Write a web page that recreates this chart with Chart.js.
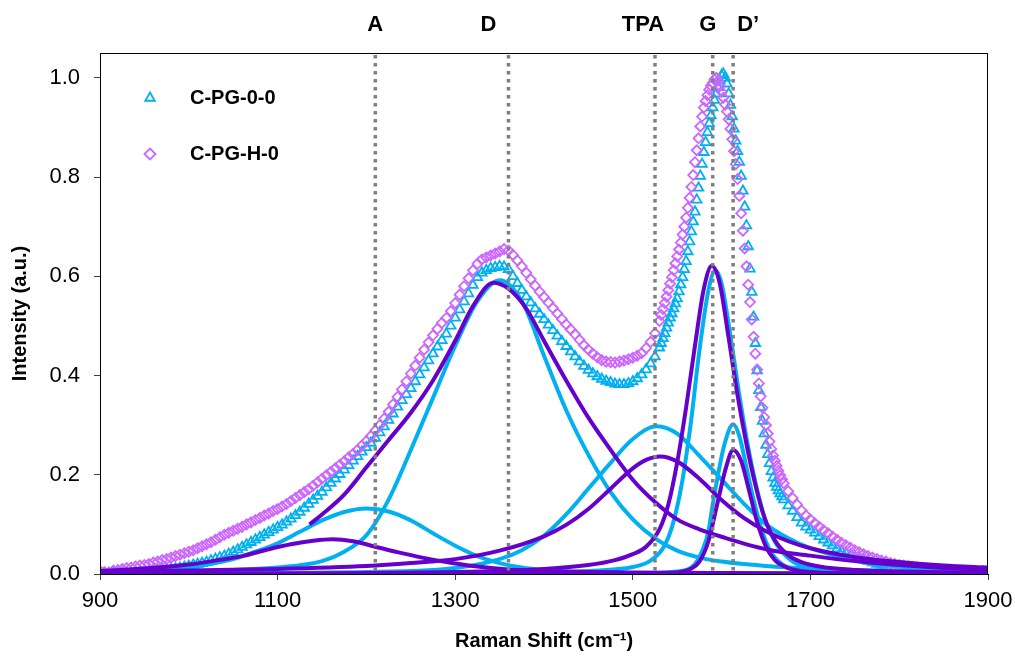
<!DOCTYPE html>
<html>
<head>
<meta charset="utf-8">
<script src="https://cdn.jsdelivr.net/npm/chart.js@4.4.1/dist/chart.umd.min.js"></script>
<style>
  html, body { margin: 0; padding: 0; background: #fff; }
  #wrap { width: 1015px; height: 656px; }
</style>
</head>
<body>
<div id="wrap"><canvas id="ramanChart" width="1015" height="656"></canvas></div>
<script>
// measured spectra: every 5 cm-1, every 2 cm-1 across the G band
const shift = [];
for (let x = 900; x <= 1530; x += 5) shift.push(x);
for (let x = 1532; x <= 1668; x += 2) shift.push(x);
for (let x = 1670; x <= 1895; x += 5) shift.push(x);

// C-PG-0-0
const pg00Low = [
  0.002,0.000,0.001,0.002,0.001,0.003,0.002,0.003,0.004,0.004,
  0.005,0.006,0.006,0.007,0.008,0.009,0.010,0.011,0.012,0.014,
  0.016,0.018,0.020,0.022,0.024,0.027,0.030,0.033,0.036,0.040,
  0.044,0.049,0.054,0.059,0.064,0.069,0.074,0.079,0.084,0.089,
  0.094,0.099,0.105,0.111,0.118,0.125,0.133,0.141,0.149,0.157,
  0.165,0.174,0.183,0.192,0.201,0.210,0.219,0.228,0.237,0.246,
  0.255,0.264,0.274,0.285,0.297,0.310,0.323,0.337,0.350,0.362,
  0.374,0.388,0.402,0.416,0.430,0.444,0.458,0.471,0.484,0.500,
  0.516,0.533,0.549,0.565,0.582,0.598,0.607,0.612,0.616,0.618,
  0.620,0.619,0.614,0.600,0.586,0.572,0.559,0.547,0.535,0.524,
  0.513,0.502,0.491,0.480,0.469,0.459,0.448,0.438,0.428,0.419,
  0.411,0.404,0.398,0.393,0.389,0.386,0.383,0.382,0.382,0.384,
  0.388,0.394,0.402,0.412,0.424,0.438,0.456
];
const pg00Peak = [
  0.465,0.475,0.485,0.496,0.506,0.516,0.525,0.535,0.545,0.555,
  0.569,0.583,0.598,0.614,0.630,0.650,0.670,0.690,0.710,0.730,
  0.754,0.778,0.802,0.826,0.850,0.870,0.890,0.908,0.924,0.940,
  0.955,0.968,0.981,0.994,1.005,1.008,1.000,0.988,0.968,0.945,
  0.922,0.897,0.873,0.852,0.830,0.802,0.772,0.740,0.702,0.660,
  0.615,0.568,0.518,0.465,0.410,0.370,0.336,0.308,0.283,0.260,
  0.241,0.223,0.207,0.194,0.183,0.175,0.168,0.162,0.156
];
const pg00High = [
  0.150,0.138,0.127,0.114,0.103,0.095,
  0.089,0.083,0.076,0.069,0.063,0.057,0.051,0.046,0.042,0.038,
  0.035,0.032,0.029,0.026,0.023,0.020,0.018,0.015,0.013,0.011,
  0.010,0.009,0.008,0.007,0.006,0.006,0.005,0.005,0.004,0.004,
  0.003,0.003,0.003,0.002,0.002,0.002,0.001,0.001,0.001,0.002
];

// C-PG-H-0
const pgH0Low = [
  0.006,0.004,0.003,0.007,0.008,0.010,0.012,0.013,0.015,0.017,
  0.018,0.020,0.023,0.025,0.028,0.030,0.033,0.036,0.039,0.042,
  0.045,0.048,0.052,0.056,0.060,0.064,0.069,0.074,0.079,0.083,
  0.087,0.091,0.095,0.100,0.104,0.109,0.113,0.118,0.122,0.127,
  0.131,0.136,0.141,0.147,0.153,0.159,0.165,0.171,0.178,0.185,
  0.192,0.199,0.206,0.213,0.220,0.227,0.235,0.242,0.250,0.259,
  0.268,0.278,0.289,0.300,0.313,0.327,0.342,0.357,0.372,0.388,
  0.404,0.420,0.436,0.452,0.467,0.481,0.494,0.506,0.516,0.530,
  0.546,0.563,0.580,0.596,0.612,0.625,0.634,0.638,0.642,0.646,
  0.650,0.655,0.652,0.643,0.632,0.620,0.607,0.594,0.581,0.569,
  0.558,0.547,0.536,0.525,0.514,0.503,0.493,0.483,0.472,0.461,
  0.452,0.444,0.437,0.431,0.428,0.427,0.426,0.428,0.430,0.433,
  0.436,0.440,0.445,0.455,0.468,0.485,0.510
];
const pgH0Peak = [
  0.522,0.534,0.546,0.559,0.572,0.585,0.598,0.612,0.626,0.640,
  0.654,0.668,0.684,0.700,0.718,0.738,0.758,0.780,0.804,0.830,
  0.854,0.878,0.902,0.922,0.940,0.953,0.965,0.976,0.984,0.990,
  0.997,1.000,0.994,0.983,0.972,0.960,0.946,0.932,0.916,0.897,
  0.876,0.852,0.826,0.796,0.762,0.727,0.692,0.656,0.620,0.583,
  0.548,0.513,0.478,0.444,0.412,0.384,0.358,0.335,0.316,0.300,
  0.283,0.267,0.252,0.239,0.228,0.218,0.208,0.199,0.191
];
const pgH0High = [
  0.183,0.167,0.153,0.140,0.128,0.118,
  0.110,0.102,0.095,0.088,0.082,0.075,0.069,0.063,0.058,0.053,
  0.048,0.044,0.040,0.036,0.033,0.030,0.027,0.025,0.022,0.020,
  0.018,0.017,0.015,0.014,0.013,0.012,0.011,0.010,0.010,0.009,
  0.008,0.008,0.007,0.007,0.006,0.006,0.005,0.005,0.004,0.006
];

const pg00 = pg00Low.concat(pg00Peak, pg00High);
const pgH0 = pgH0Low.concat(pgH0Peak, pgH0High);

// fitted peak components, [shift, intensity]
const fitA_00 = [[900,0.002],[950,0.005],[1000,0.013],[1050,0.03],[1075,0.045],[1100,0.062],[1125,0.085],[1150,0.108],[1175,0.125],[1200,0.132],[1225,0.126],[1250,0.108],[1275,0.082],[1300,0.057],[1325,0.036],[1350,0.022],[1375,0.013],[1400,0.008],[1450,0.003],[1500,0.001],[1600,0],[1900,0]];
const fitD_00 = [[900,0.002],[1000,0.005],[1050,0.008],[1100,0.013],[1150,0.026],[1175,0.045],[1200,0.078],[1225,0.15],[1250,0.25],[1275,0.355],[1300,0.46],[1325,0.55],[1350,0.592],[1375,0.55],[1400,0.44],[1425,0.33],[1450,0.24],[1475,0.165],[1500,0.11],[1525,0.072],[1550,0.047],[1575,0.033],[1600,0.025],[1650,0.016],[1700,0.011],[1800,0.006],[1900,0.003]];
const fitTPA_00 = [[900,0.001],[1200,0.004],[1300,0.012],[1350,0.03],[1375,0.048],[1400,0.077],[1425,0.12],[1450,0.172],[1475,0.224],[1500,0.272],[1527,0.298],[1550,0.283],[1575,0.238],[1600,0.19],[1625,0.142],[1650,0.1],[1675,0.072],[1700,0.052],[1750,0.028],[1800,0.015],[1850,0.008],[1900,0.005]];
const fitG_00 = [[900,0],[1400,0.003],[1450,0.006],[1500,0.014],[1520,0.027],[1535,0.055],[1545,0.1],[1555,0.18],[1565,0.3],[1575,0.45],[1585,0.57],[1593,0.612],[1600,0.585],[1610,0.48],[1620,0.36],[1630,0.255],[1640,0.17],[1650,0.105],[1660,0.065],[1675,0.032],[1690,0.016],[1710,0.008],[1750,0.003],[1900,0]];
const fitDp_00 = [[900,0],[1500,0.001],[1550,0.005],[1570,0.02],[1580,0.055],[1585,0.085],[1590,0.14],[1596,0.2],[1603,0.26],[1613,0.302],[1620,0.278],[1628,0.215],[1636,0.15],[1645,0.09],[1655,0.046],[1668,0.02],[1685,0.008],[1710,0.003],[1750,0.001],[1900,0]];

const fitA_H0 = [[900,0.006],[950,0.011],[1000,0.019],[1030,0.027],[1060,0.036],[1090,0.05],[1115,0.06],[1140,0.067],[1162,0.07],[1185,0.066],[1210,0.055],[1235,0.044],[1260,0.034],[1290,0.024],[1320,0.016],[1360,0.009],[1400,0.006],[1500,0.003],[1600,0.002],[1900,0.001]];
const fitD_H0 = [[1136,0.10],[1150,0.12],[1175,0.16],[1200,0.215],[1225,0.27],[1250,0.325],[1275,0.39],[1300,0.47],[1320,0.54],[1343,0.587],[1360,0.575],[1380,0.535],[1400,0.47],[1425,0.39],[1450,0.315],[1475,0.25],[1500,0.19],[1525,0.145],[1550,0.11],[1575,0.09],[1600,0.075],[1650,0.05],[1700,0.037],[1750,0.026],[1800,0.018],[1850,0.012],[1900,0.008]];
const fitTPA_H0 = [[900,0.005],[1000,0.007],[1100,0.01],[1200,0.016],[1250,0.022],[1300,0.03],[1350,0.047],[1400,0.076],[1425,0.099],[1450,0.131],[1475,0.172],[1500,0.213],[1515,0.23],[1531,0.237],[1550,0.227],[1575,0.192],[1600,0.149],[1625,0.113],[1650,0.086],[1675,0.066],[1700,0.052],[1750,0.034],[1800,0.024],[1850,0.017],[1900,0.013]];
const fitG_H0 = [[900,0],[1300,0.004],[1400,0.01],[1450,0.018],[1480,0.028],[1500,0.04],[1515,0.055],[1530,0.09],[1540,0.14],[1550,0.225],[1560,0.335],[1570,0.46],[1580,0.575],[1589,0.621],[1598,0.585],[1608,0.475],[1618,0.36],[1628,0.262],[1638,0.18],[1648,0.115],[1660,0.068],[1675,0.038],[1690,0.024],[1710,0.015],[1750,0.008],[1800,0.005],[1900,0.002]];
const fitDp_H0 = [[900,0],[1500,0.001],[1550,0.003],[1565,0.01],[1575,0.025],[1585,0.065],[1595,0.14],[1605,0.215],[1613,0.25],[1622,0.228],[1630,0.175],[1640,0.105],[1650,0.055],[1660,0.028],[1675,0.012],[1700,0.004],[1750,0.001],[1900,0]];

// band markers
const bandNames = ['A', 'D', 'TPA', 'G', 'D\u2019'];
const bandShift = [1210, 1360, 1525, 1590, 1613];
const bandLabelNudge = [0, -20, -12, -5, 15];

const xTicks = [900, 1100, 1300, 1500, 1700, 1900];
const yTicks = [0, 0.2, 0.4, 0.6, 0.8, 1.0];

const CYAN = '#00B0F0';
const PURPLE = '#6600CC';
const LILAC = '#CC66FF';
const FONT = "'Liberation Sans', Arial, sans-serif";

const toXY = pairs => pairs.map(p => ({ x: p[0], y: p[1] }));
const seriesXY = vals => vals.map((v, i) => ({ x: shift[i], y: v }));

function fitLine(pairs, color) {
    return {
        data: toXY(pairs),
        borderColor: color,
        borderWidth: 4,
        pointRadius: 0,
        fill: false,
        cubicInterpolationMode: 'monotone',
        order: color === PURPLE ? 1 : 2
    };
}

const boxPlugin = {
    id: 'frame',
    afterDatasetsDraw(chart) {
        const { ctx, chartArea: a, scales } = chart;
        ctx.save();
        // dotted band positions
        ctx.strokeStyle = '#7F7F7F';
        ctx.lineWidth = 3.5;
        ctx.setLineDash([3.5, 4.5]);
        bandShift.forEach(v => {
            const x = scales.x.getPixelForValue(v);
            ctx.beginPath();
            ctx.moveTo(x, a.top + 2);
            ctx.lineTo(x, a.bottom);
            ctx.stroke();
        });
        ctx.setLineDash([]);
        ctx.fillStyle = '#000';
        ctx.font = 'bold 22px ' + FONT;
        ctx.textAlign = 'center';
        ctx.textBaseline = 'middle';
        bandShift.forEach((v, i) => {
            const x = scales.x.getPixelForValue(v) + bandLabelNudge[i];
            ctx.fillText(bandNames[i], x, 25);
        });
        // plot frame
        ctx.strokeStyle = '#000';
        ctx.lineWidth = 1;
        ctx.strokeRect(a.left + 0.5, a.top + 0.5, a.right - a.left - 1, a.bottom - a.top);
        // legend
        const rows = [
            { text: 'C-PG-0-0', style: 'triangle', color: CYAN, y: a.top + 45 },
            { text: 'C-PG-H-0', style: 'rectRot', color: LILAC, y: a.top + 101 }
        ];
        ctx.font = 'bold 20px ' + FONT;
        ctx.textAlign = 'left';
        rows.forEach(r => {
            ctx.strokeStyle = r.color;
            ctx.fillStyle = 'rgba(0,0,0,0)';
            ctx.lineWidth = 1.8;
            Chart.helpers.drawPoint(ctx, { pointStyle: r.style, radius: 5.5, rotation: 0, borderWidth: 1.8 }, a.left + 50, r.y);
            ctx.fillStyle = '#000';
            ctx.fillText(r.text, a.left + 90, r.y);
        });
        ctx.restore();
    }
};

new Chart(document.getElementById('ramanChart').getContext('2d'), {
    type: 'line',
    data: {
        datasets: [
            fitLine(fitA_H0, PURPLE),
            fitLine(fitD_H0, PURPLE),
            fitLine(fitTPA_H0, PURPLE),
            fitLine(fitG_H0, PURPLE),
            fitLine(fitDp_H0, PURPLE),
            fitLine(fitA_00, CYAN),
            fitLine(fitD_00, CYAN),
            fitLine(fitTPA_00, CYAN),
            fitLine(fitG_00, CYAN),
            fitLine(fitDp_00, CYAN),
            {
                label: 'C-PG-H-0',
                data: seriesXY(pgH0),
                showLine: false,
                pointStyle: 'rectRot',
                pointRadius: 5,
                borderWidth: 1.8,
                borderColor: LILAC,
                backgroundColor: 'rgba(0,0,0,0)',
                order: 3
            },
            {
                label: 'C-PG-0-0',
                data: seriesXY(pg00),
                showLine: false,
                pointStyle: 'triangle',
                pointRadius: 5.5,
                borderWidth: 1.8,
                borderColor: CYAN,
                backgroundColor: 'rgba(0,0,0,0)',
                order: 4
            }
        ]
    },
    options: {
        responsive: false,
        animation: false,
        devicePixelRatio: 1,
        layout: { padding: { top: 53, right: 27, left: 0, bottom: 0 } },
        plugins: {
            legend: { display: false },
            tooltip: { enabled: false }
        },
        scales: {
            x: {
                type: 'linear',
                min: 900,
                max: 1900,
                afterFit: s => { s.height = 82; s.paddingRight = 0; s.paddingLeft = 0; },
                afterBuildTicks: s => { s.ticks = xTicks.map(v => ({ value: v })); },
                ticks: { font: { size: 22, family: FONT }, color: '#000', padding: 8, maxRotation: 0, callback: v => String(v) },
                grid: { drawOnChartArea: false, drawTicks: true, tickLength: 6, color: '#404040' },
                border: { display: true, color: '#000' },
                title: {
                    display: true,
                    text: 'Raman Shift (cm\u207B\u00B9)',
                    font: { size: 20, weight: 'bold', family: FONT },
                    color: '#000',
                    padding: { top: 0, bottom: 3 }
                }
            },
            y: {
                min: 0,
                max: 1.05,
                afterFit: s => { s.width = 100; },
                afterBuildTicks: s => { s.ticks = yTicks.map(v => ({ value: v })); },
                ticks: { font: { size: 22, family: FONT }, color: '#000', padding: 14, callback: v => v.toFixed(1) },
                grid: { drawOnChartArea: false, drawTicks: true, tickLength: 6, color: '#404040' },
                border: { display: true, color: '#000' },
                title: {
                    display: true,
                    text: 'Intensity (a.u.)',
                    font: { size: 20, weight: 'bold', family: FONT },
                    color: '#000',
                    padding: { top: 8, bottom: 8 }
                }
            }
        }
    },
    plugins: [boxPlugin]
});
</script>
</body>
</html>
